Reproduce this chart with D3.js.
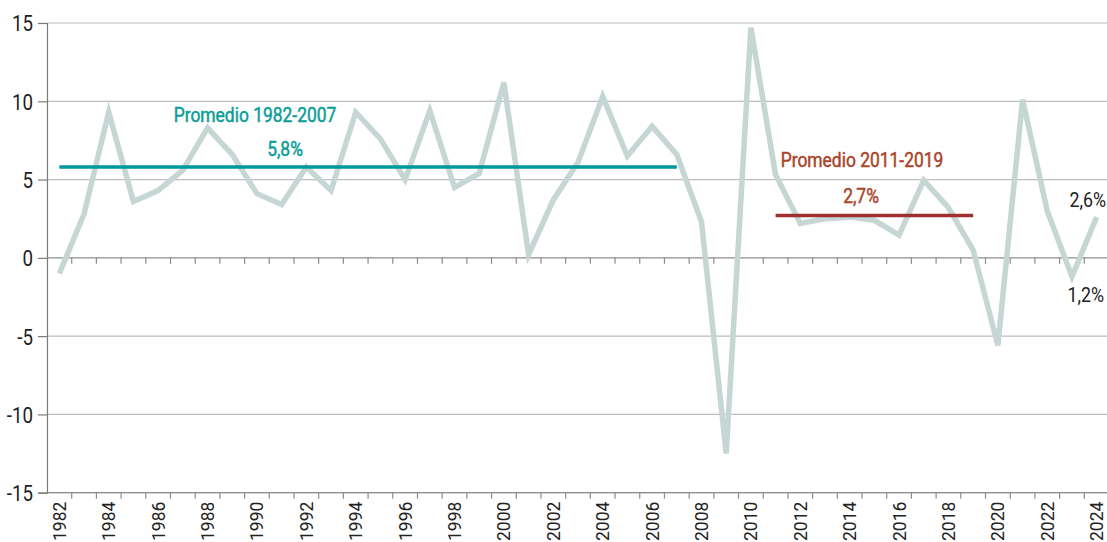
<!DOCTYPE html>
<html>
<head>
<meta charset="utf-8">
<script src="https://cdn.jsdelivr.net/npm/d3@7"></script>
<style>
  body { margin: 0; background: #fff; }
  svg text { font-family: "Roboto", "DejaVu Sans Condensed", sans-serif; }
</style>
</head>
<body>
<div class="svg-container"></div>
<script>
// data
const years = [1982, 1983, 1984, 1985, 1986, 1987, 1988, 1989, 1990, 1991, 1992, 1993, 1994, 1995,
               1996, 1997, 1998, 1999, 2000, 2001, 2002, 2003, 2004, 2005, 2006, 2007, 2008, 2009,
               2010, 2011, 2012, 2013, 2014, 2015, 2016, 2017, 2018, 2019, 2020, 2021, 2022, 2023, 2024];
const growth = [-1.0, 2.8, 9.3, 3.6, 4.3, 5.6, 8.3, 6.6, 4.1, 3.4, 5.8, 4.3, 9.3, 7.6,
                5.0, 9.4, 4.5, 5.4, 11.2, 0.2, 3.7, 6.1, 10.3, 6.5, 8.4, 6.6, 2.3, -12.5,
                14.7, 5.3, 2.2, 2.5, 2.6, 2.4, 1.45, 4.95, 3.2, 0.5, -5.6, 10.1, 3.0, -1.2, 2.6];
const yTicks = [-15, -10, -5, 0, 5, 10, 15];
const averages = [
  { from: 1982, to: 2007, value: 5.8, title: 'Promedio 1982-2007', label: '5,8%', line: '#00999a', text: '#0a9d97' },
  { from: 2011, to: 2019, value: 2.7, title: 'Promedio 2011-2019', label: '2,7%', line: '#a02f30', text: '#a9452a' }
];
const endLabels = ['2,6%', '1,2%'];

const width = 1107, height = 542;
const margin = { top: 23, right: 0, bottom: 49, left: 47 };
const squeeze = 0.85; // narrow look of the original font

const svg = d3.select('.svg-container')
  .append('svg')
  .attr('width', width)
  .attr('height', height);

const x = d3.scaleBand()
  .domain(years)
  .range([margin.left, 1109])
  .padding(0);

const y = d3.scaleLinear()
  .domain([-15, 15])
  .range([height - margin.bottom - 0.3, margin.top]);

const cx = yr => x(yr) + x.bandwidth() / 2;

// squeezed text helper (heavy = slight outline for a medium weight look)
function label(px, py, txt, size, color, anchor, heavy) {
  svg.append('g')
    .attr('transform', `translate(${px}, ${py})`)
    .append('text')
    .attr('transform', `scale(${squeeze}, 1)`)
    .attr('text-anchor', anchor)
    .attr('font-size', size)
    .attr('fill', color)
    .attr('stroke', heavy ? color : 'none')
    .attr('stroke-width', heavy ? 0.5 : 0)
    .text(txt);
}

// gridlines
svg.selectAll('.grid')
  .data(yTicks.filter(d => d !== 0))
  .join('line')
  .attr('class', 'grid')
  .attr('x1', margin.left)
  .attr('x2', width)
  .attr('y1', d => y(d))
  .attr('y2', d => y(d))
  .attr('stroke', '#bdbdbd')
  .attr('stroke-width', 1.2);

// zero line and bottom line, each with small ticks at year boundaries
const tickYears = years.slice(1).concat(['end']);
const tickX = d => d === 'end' ? x(2024) + x.bandwidth() - 1 : x(d);

[0, -15].forEach(v => {
  svg.append('line')
    .attr('x1', margin.left).attr('x2', width)
    .attr('y1', y(v)).attr('y2', y(v))
    .attr('stroke', '#8c8c8c').attr('stroke-width', 1.2);

  svg.selectAll('.tick-' + Math.abs(v))
    .data(tickYears)
    .join('line')
    .attr('class', 'tick-' + Math.abs(v))
    .attr('x1', tickX)
    .attr('x2', tickX)
    .attr('y1', y(v))
    .attr('y2', y(v) + 6)
    .attr('stroke', '#8c8c8c')
    .attr('stroke-width', 1.2);
});

// y axis
const yAxis = d3.axisLeft(y)
  .tickValues(yTicks)
  .tickSize(9)
  .tickFormat(d => d);

svg.append('g')
  .attr('class', 'y-axis')
  .attr('transform', `translate(${margin.left}, 0)`)
  .call(yAxis)
  .call(g => g.select('.domain').attr('stroke', '#7a7a7a').attr('stroke-width', 1.2))
  .call(g => g.selectAll('.tick line').attr('stroke', '#7a7a7a').attr('stroke-width', 1.2))
  .call(g => g.selectAll('.tick text')
    .attr('font-size', 22)
    .attr('fill', '#222')
    .attr('x', -14 / squeeze)
    .attr('dy', '0.36em')
    .attr('transform', `scale(${squeeze}, 1)`));

// year labels, every other year
const xb = y(-15);
svg.selectAll('.x-label')
  .data(years.filter(d => d % 2 === 0))
  .join('text')
  .attr('class', 'x-label')
  .attr('transform', d => `translate(${cx(d) + 6.5}, ${xb + 9}) rotate(-90)`)
  .attr('text-anchor', 'end')
  .attr('font-size', 17.5)
  .attr('fill', '#222')
  .text(d => d);

// main series
const line = d3.line()
  .x((d, i) => cx(years[i]))
  .y(d => y(d));

svg.append('path')
  .datum(growth)
  .attr('d', line)
  .attr('fill', 'none')
  .attr('stroke', '#c5d6d4')
  .attr('stroke-width', 5.5)
  .attr('stroke-linejoin', 'miter');

// average lines
svg.selectAll('.avg-line')
  .data(averages)
  .join('line')
  .attr('class', 'avg-line')
  .attr('x1', d => cx(d.from))
  .attr('x2', d => cx(d.to))
  .attr('y1', d => y(d.value))
  .attr('y2', d => y(d.value))
  .attr('stroke', d => d.line)
  .attr('stroke-width', 3.5);

// annotation texts
label(255, 122, averages[0].title, 20.5, averages[0].text, 'middle', true);
label(285, 155.5, averages[0].label, 20.5, averages[0].text, 'middle', true);
label(862, 167, averages[1].title, 20.5, averages[1].text, 'middle', true);
label(861, 203, averages[1].label, 20.5, averages[1].text, 'middle', true);
label(1106, 207, endLabels[0], 21, '#222', 'end');
label(1104, 302, endLabels[1], 21, '#222', 'end');
</script>
</body>
</html>
